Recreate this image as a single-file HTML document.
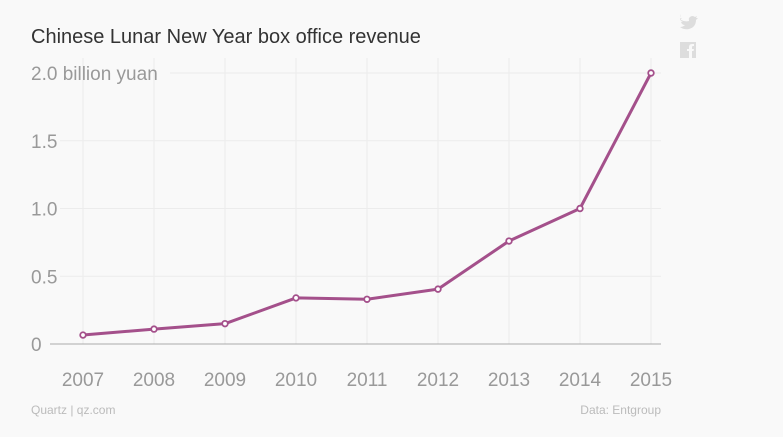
<!DOCTYPE html>
<html><head><meta charset="utf-8"><style>
html,body{margin:0;padding:0;background:#f9f9f9;}
svg{display:block;font-family:"Liberation Sans",sans-serif;}
</style></head><body>
<svg id="chart" width="783" height="437">
<rect width="783" height="437" fill="#f9f9f9"/>
<text x="31" y="43" font-size="20" fill="#333">Chinese Lunar New Year box office revenue</text>
<g id="grid"></g>
<g id="axes"></g>
<g id="series"></g>
<text x="31" y="414" font-size="12" fill="#bbb">Quartz | qz.com</text>
<text x="661" y="414" font-size="12" fill="#bbb" text-anchor="end">Data: Entgroup</text>
<path d="M681 20 q4 2 8 1 q-1 -4 3 -5 q2 0 3 1 l2 -1 l-1 2 l2 0 l-2 2 q0 7 -7 9 q-5 1 -9 -2 q3 0 5 -2 q-3 0 -4 -3 l2 0 q-3 -1 -3 -4 l2 1 q-2 -2 -1 -5z" fill="#ddd"/>
<rect x="680" y="42" width="16" height="16" fill="#ddd"/>
<path d="M689 58 v-7 h-2 v-2 h2 v-2 q0 -3 3 -3 h2 v2 h-1 q-1 0 -1 1 v2 h2 l-0.5 2 h-1.5 v7z" fill="#f9f9f9"/>
</svg>
<script>
const years = ["2007","2008","2009","2010","2011","2012","2013","2014","2015"];
const revenue = [0.066, 0.11, 0.15, 0.34, 0.33, 0.405, 0.76, 1.0, 2.0];
const yTicks = [0, 0.5, 1.0, 1.5, 2.0];
const yTickLabels = ["0", "0.5", "1.0", "1.5", "2.0 billion yuan"];
const NS = "http://www.w3.org/2000/svg";
const x = i => 83 + i * (651 - 83) / (years.length - 1);
const y = v => 344 - v * (344 - 73) / 2.0;
function mk(tag, attrs, parent){const e=document.createElementNS(NS,tag);for(const k in attrs)e.setAttribute(k,attrs[k]);parent.appendChild(e);return e;}
const grid=document.getElementById('grid'), axes=document.getElementById('axes'), series=document.getElementById('series');
years.forEach((yr,i)=>{
  const l=mk('line',{x1:x(i),x2:x(i),y1:58,y2:344,stroke:'#ececec','stroke-width':1},grid);
  
  
  const t=mk('text',{x:x(i),y:386,'font-size':19,fill:'#999','text-anchor':'middle'},axes);
  t.textContent=yr;
  
  
});
yTicks.forEach((v,i)=>{
  const startX = i===yTicks.length-1 ? 170 : (v===0?50:60);
  const l=mk('line',{x1:startX,x2:661,y1:y(v),y2:y(v),stroke:v===0?'#aaa':'#ececec','stroke-width':1},grid);
  
  
  const t=mk('text',{x:31,y:y(v)+7,'font-size':19,fill:'#999'},axes);
  t.textContent=yTickLabels[i];
  
  
});
const pts=revenue.map((v,i)=>x(i)+','+y(v)).join(' ');
const pl=mk('polyline',{points:pts,fill:'none',stroke:'#a4508b','stroke-width':3,'stroke-linejoin':'round'},series);


revenue.forEach((v,i)=>{
  const c=mk('circle',{cx:x(i),cy:y(v),r:2.8,fill:'#fff',stroke:'#a4508b','stroke-width':1.8},series);
  
  
});
</script>
</body></html>
